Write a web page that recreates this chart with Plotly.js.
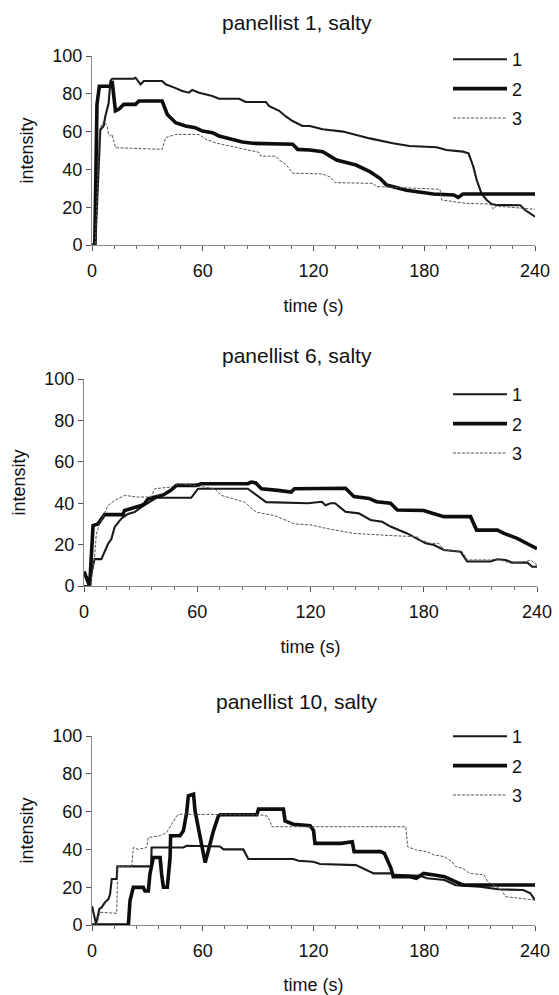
<!DOCTYPE html>
<html>
<head>
<meta charset="utf-8">
<script src="https://cdn.plot.ly/plotly-3.0.1.min.js"></script>
<style>
  html, body { margin: 0; padding: 0; background: #fff; }
  #chart { width: 559px; height: 995px; }
</style>
</head>
<body>
<div id="chart"></div>
<script>
// Time-intensity curves for saltiness, three replicates per panellist.
// Each series is a list of [time (s), intensity] points.

const panelTitles = ["panellist 1, salty", "panellist 6, salty", "panellist 10, salty"];
const replicateNames = ["1", "2", "3"];
const timeTicks = [0, 60, 120, 180, 240];
const intensityTicks = [0, 20, 40, 60, 80, 100];

// panellist 1
const p1_rep1 = [[0,0],[1.8,0],[4.5,61],[6.3,63],[7.2,68],[9,75],[10,86.8],[10.9,88],[22.6,88],[23.6,88.5],[26.3,85],[28.1,86.8],[38,86.8],[39.9,85],[45.3,83],[48.9,81.5],[52.5,80.6],[54.3,82],[58,80.6],[65.2,78.8],[68.8,77.4],[79.7,77.4],[83.3,75.7],[94.2,75.7],[96,73.5],[101.4,71],[105,68],[108.7,65.6],[114,63],[118,63],[125,61.2],[136,60],[150.5,56.4],[163,53.8],[172,52.4],[186.7,51.7],[192,50.3],[201,49.4],[204,48.5],[206.6,41.4],[208.4,34.4],[211,27.3],[213.8,23.8],[216.5,21.7],[219,21.2],[232,21],[234.6,18.5],[240,15]];
const p1_rep2 = [[0,0],[1.5,0],[2.7,74.4],[4,84],[10,84],[10.9,86.8],[12.7,71],[14.5,71.8],[17.2,74.4],[23.6,74.4],[25.4,76.2],[38,76.2],[40.8,69.1],[42.6,67.4],[45.3,64.7],[50.7,63],[56,62],[59.8,60.3],[65.2,59.4],[68.8,57.7],[76,55.9],[81.5,54.5],[87,53.8],[108.7,53.3],[111.4,50.6],[118,50.3],[125,49.4],[132.5,45],[143,42.3],[150.5,38.8],[156,35.3],[159.6,31.7],[170.4,29],[177.7,28.2],[185,27],[196,26.5],[198.4,25.2],[201,27],[240,27]];
const p1_rep3 = [[0,0],[1.8,0],[4,61],[6.3,65.6],[8.2,63],[9,58.5],[10,57.7],[10.9,58.5],[12.7,51.5],[38,50.6],[39.9,56.8],[45.3,58.5],[58,58.5],[61.6,56],[67,54],[74.3,52.4],[83.3,50.6],[90.6,49],[91.5,47],[99.6,47],[101.4,45],[105,42.7],[108.7,38],[121.4,37.4],[125,37.6],[129,36],[131.6,33],[152.4,32.6],[154,30.9],[188.5,29.5],[189.4,23.8],[203,22],[215.6,21.7],[217.4,18.9],[219,20.6],[240,18.9]];

// panellist 6
const p6_rep1 = [[0,0],[3,0],[4.2,7.3],[5.6,13],[9.2,13],[10.9,16.2],[12.7,20.3],[14.5,22.7],[16.2,28.4],[18.9,31.6],[20.6,33.2],[23.3,34.8],[26.8,35.7],[30.4,38.1],[33,39.7],[35.7,41.3],[38.3,42.6],[56.8,42.6],[60.4,47],[86.8,47],[90.4,44.6],[96.5,40.5],[118.6,40],[126,40.7],[128,39],[130.6,40],[133,40],[138.5,35.9],[145.6,35.1],[151.8,31.9],[158,31],[162.4,28.7],[171.2,25.4],[178.3,22.2],[181,20.6],[185.4,19.8],[190.7,17.4],[199.5,16.6],[203,11.8],[215.4,11.8],[219,12.9],[223.4,12.6],[227,11.3],[234.9,11.3],[237.5,9.3],[240,9.3]];
const p6_rep2 = [[0,7],[3,0],[4.8,29.2],[7.4,30],[10.9,34.5],[20.6,34.5],[21.5,36.5],[27.7,38],[30.4,38.9],[32,39.7],[33.9,42],[35.7,42.5],[42,44],[46,46.2],[49,48.6],[59.5,48.6],[62,49.4],[86.8,49.4],[88.6,50.2],[91,49.8],[94,47],[102.7,46.2],[109.8,45.4],[111.5,47],[138.5,47.2],[143,43.2],[151,42.3],[155,40.7],[162.4,40],[166,36.7],[180,36.5],[185,35],[190.7,33.5],[204.8,33.5],[208,27],[219,27],[222.5,25.4],[229.5,23],[234.9,20.6],[240,18]];
const p6_rep3 = [[0,0],[3.5,0],[5.6,13.8],[6.5,25],[8.3,30],[12.7,38.9],[16.2,41.3],[21.5,43.8],[27.7,43],[35.7,43],[37.4,47],[46.2,47.8],[49.8,49.4],[55,49],[63.9,47.8],[69.2,47],[72.7,43.8],[79.8,42.1],[85,40.5],[91.2,35.7],[97.4,34.8],[101,34],[111.5,30],[120,29.5],[130.6,27.4],[143,25.4],[164,24.3],[176.5,23.8],[178.3,22.2],[183.6,20.6],[188,20.6],[190.7,17.4],[200.4,16.6],[203,12.6],[215,12.6],[219,13],[226,11],[234,11.8],[236.6,12.6],[240,10.1]];

// panellist 10
const p10_rep1 = [[0,10],[2.2,0.5],[4,8.5],[5.2,9.3],[7,12],[8.9,13.7],[9.8,16.4],[10.7,24.3],[13.4,24.3],[13.7,31],[32,31],[32.3,41],[49.5,41],[51.3,41.9],[69.4,41.5],[71.2,40],[82,40],[84.7,34.9],[109,34.9],[111.9,34],[119.8,33.5],[123.6,32.3],[143,31.7],[148.7,29],[152.6,27.3],[162,27.3],[164,26.5],[177.7,26],[181.5,24.7],[191,23.8],[197,21],[210,20.3],[220,18.9],[233.6,18.5],[237.5,16.8],[240,13.2]];
const p10_rep2 = [[0,0],[19.7,0],[20.6,12.9],[22.4,19.9],[27.8,19.9],[28.7,18],[30.5,18],[31.4,27],[33.2,35.7],[36.9,35.7],[37.7,27],[38.7,20],[40.8,20],[42.3,35.7],[42.6,47.2],[47.7,47.2],[49.5,49.8],[51.3,59.5],[52.2,68.3],[55,69.2],[55.8,60.4],[57.6,51.6],[59.5,42.8],[61.3,33],[63,39.3],[65.8,49.8],[68.5,57.7],[69.4,58.3],[89.3,58.3],[90.2,61.3],[103.7,61.3],[104.6,55.1],[109,53.3],[118.2,52.5],[120,50],[120.8,43.2],[135,43.2],[141,44],[142,38.8],[156.4,38.8],[158.4,37.9],[162,30],[163.2,25.6],[172,25.6],[175.7,24.7],[179.6,27.3],[185.4,26.5],[191,25.6],[195,23.8],[199,21.7],[200.8,21.2],[240,21.2]];
const p10_rep3 = [[0,0],[2.5,0],[4.3,6.7],[13.4,6.2],[13.7,20],[14,31],[21.5,31],[22.4,41],[25,40],[29.6,41],[30.5,46.3],[36.9,47.2],[40.5,49],[43.2,53.3],[45.9,57.7],[47.7,58.6],[91,58.3],[94.7,57.7],[96.5,55.1],[97.4,52],[170,52],[171,41.4],[175.7,39.7],[181.5,38.8],[185.4,37],[191,36.2],[195,33.5],[197,30.9],[200.8,30],[204.7,27.3],[212.4,26.5],[214.3,22.9],[222,18.5],[224,15],[231.7,14.1],[240,13.2]];

const panels = [
  [p1_rep1, p1_rep2, p1_rep3],
  [p6_rep1, p6_rep2, p6_rep3],
  [p10_rep1, p10_rep2, p10_rep3]
];

// ---- styling ----
const W = 559, H = 995;
const fx = v => v / W;          // pixel -> paper x
const fy = v => 1 - v / H;      // pixel -> paper y
const FONT = "Liberation Sans, Arial, Helvetica, sans-serif";
const INK = "#111111";
const AXIS = "#8a8a8a";
const TICK_SIZE = 18, TITLE_SIZE = 21, AXTITLE_SIZE = 18;

const lineStyles = [
  { color: "#1a1a1a", width: 2.1 },
  { color: "#0d0d0d", width: 3.6 },
  { color: "#555555", width: 1, dash: "3px,1.5px" }
];

// plot-area boxes in pixels: [left, right, top(100), bottom(0)]
const boxes = [
  [92, 535, 56, 245],
  [84, 537, 379, 586],
  [92, 535, 736, 925]
];
const titleY = [22, 355, 701];
const legendTop = [41, 376, 718];

const traces = [];
panels.forEach((series, p) => {
  const ax = p === 0 ? "" : String(p + 1);
  series.forEach((pts, r) => {
    traces.push({
      type: "scatter",
      mode: "lines",
      x: pts.map(d => d[0]),
      y: pts.map(d => d[1]),
      name: replicateNames[r],
      xaxis: "x" + ax,
      yaxis: "y" + ax,
      legend: p === 0 ? "legend" : "legend" + (p + 1),
      legendgroup: "g" + p + "_" + r,
      line: Object.assign({ shape: "linear" }, lineStyles[r]),
      hoverinfo: "x+y"
    });
  });
});

const layout = {
  width: W, height: H,
  margin: { l: 0, r: 0, t: 0, b: 0 },
  paper_bgcolor: "#fff",
  plot_bgcolor: "rgba(0,0,0,0)",
  font: { family: FONT, color: INK, size: TICK_SIZE },
  showlegend: true,
  annotations: [],
  hovermode: "closest"
};

boxes.forEach((b, p) => {
  const ax = p === 0 ? "" : String(p + 1);
  const over = String(p + 4);
  const xd = [fx(b[0]), fx(b[1])];
  const yd = [fy(b[3]), fy(b[2])];
  layout["xaxis" + ax] = {
    domain: xd, range: [0, 240], anchor: "y" + ax,
    tickvals: timeTicks, ticks: "outside", ticklen: 5, tickwidth: 1, tickcolor: "#555",
    minor: { dtick: 12, tick0: 0, ticks: "outside", ticklen: 3, tickcolor: "#666", showgrid: false },
    showline: true, linecolor: AXIS, linewidth: 1,
    showgrid: false, zeroline: false, fixedrange: true,
    ticklabelstandoff: 4,
    tickfont: { size: TICK_SIZE, color: INK, family: FONT },
    title: { text: "time (s)", font: { size: AXTITLE_SIZE, color: INK, family: FONT }, standoff: 19 }
  };
  // companion axis: upper half of the major tick marks
  layout["xaxis" + over] = {
    domain: xd, range: [0, 240], overlaying: "x" + ax, anchor: "y" + ax, side: "bottom",
    tickvals: timeTicks, ticks: "inside", ticklen: 5, tickwidth: 1, tickcolor: "#555",
    showticklabels: false, showline: false, showgrid: false, zeroline: false, fixedrange: true
  };
  layout["yaxis" + ax] = {
    domain: yd, range: [0, 100], anchor: "x" + ax,
    tickvals: intensityTicks, ticks: "outside", ticklen: 5, tickwidth: 1, tickcolor: "#555",
    showline: true, linecolor: AXIS, linewidth: 1,
    showgrid: false, zeroline: false, fixedrange: true,
    tickfont: { size: TICK_SIZE, color: INK, family: FONT },
    title: { text: "intensity", font: { size: AXTITLE_SIZE, color: INK, family: FONT }, standoff: 14 }
  };
  layout[p === 0 ? "legend" : "legend" + (p + 1)] = {
    x: fx(448), y: fy(legendTop[p]), xanchor: "left", yanchor: "top",
    bgcolor: "rgba(0,0,0,0)", borderwidth: 0,
    font: { size: TICK_SIZE, color: INK, family: FONT },
    itemwidth: 54, tracegroupgap: 3, traceorder: "grouped"
  };
  layout.annotations.push({
    text: panelTitles[p], xref: "paper", yref: "paper",
    x: fx(297), y: fy(titleY[p]), xanchor: "center", yanchor: "middle",
    showarrow: false, font: { size: TITLE_SIZE, color: INK, family: FONT }
  });
});

Plotly.newPlot("chart", traces, layout, { displayModeBar: false });
</script>
</body>
</html>
